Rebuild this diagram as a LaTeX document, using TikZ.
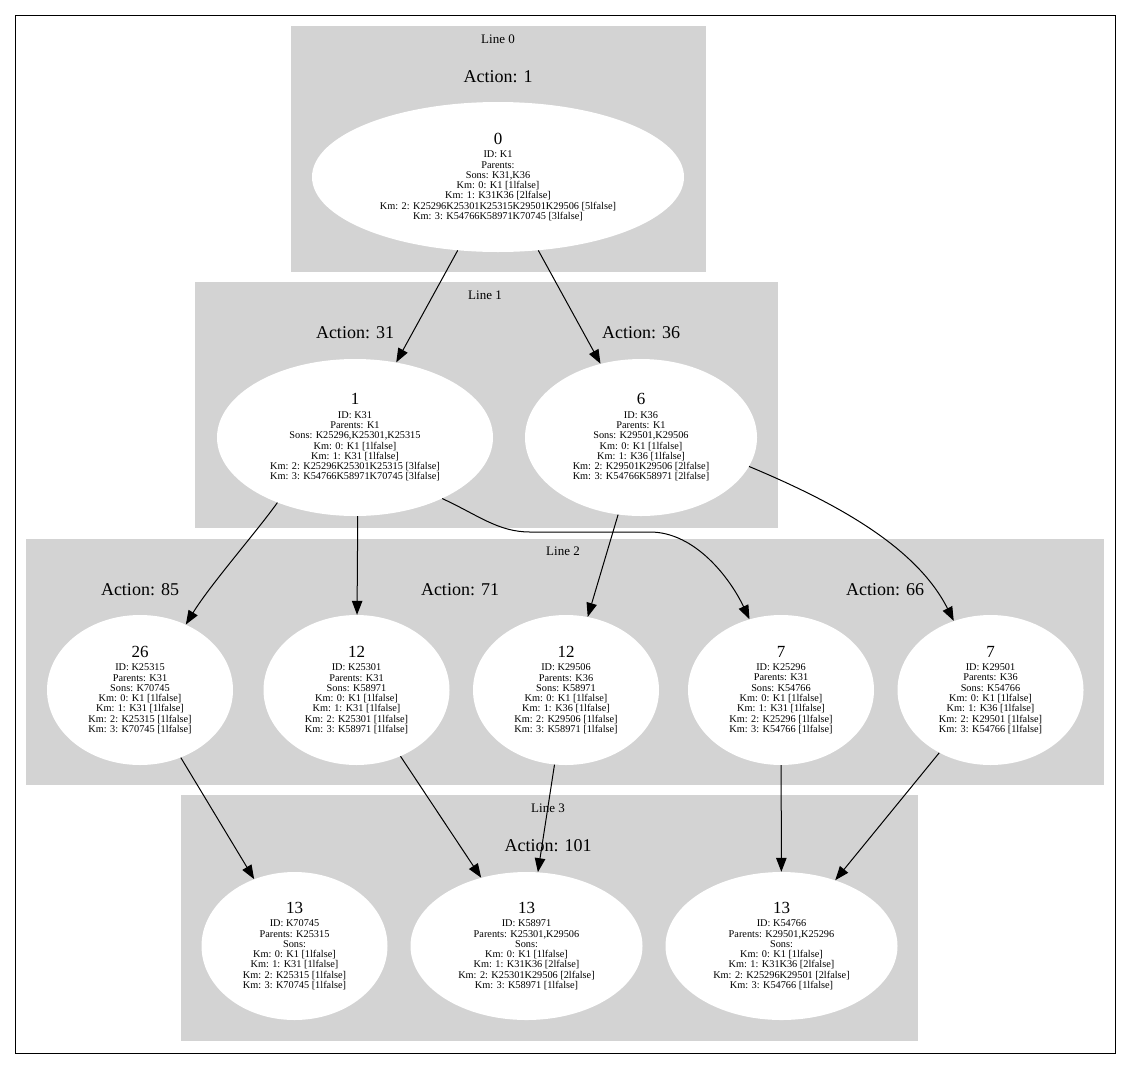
\documentclass[tikz,border=0pt]{standalone}
\usepackage{fontspec}
\setmainfont{Liberation Serif}
\usetikzlibrary{arrows.meta,shapes.geometric}

% cluster backgrounds, state ellipses, captions and arrows
\tikzset{
  cluster/.style={fill=clustergray, draw=none},
  state/.style={ellipse, fill=white, draw=none, inner sep=0pt, align=center,
                font=\fontsize{10.3}{10.3}\selectfont},
  smallstate/.style={state, minimum width=186pt, minimum height=150pt},
  widestate/.style={state, minimum width=232pt, minimum height=150pt},
  linelabel/.style={font=\fontsize{13}{13}\selectfont, inner sep=0pt},
  actionlabel/.style={font=\fontsize{18}{18}\selectfont, inner sep=0pt},
  conn/.style={draw=black, line width=1pt,
               -{Triangle[length=14pt,width=10.5pt]}},
}
\definecolor{clustergray}{RGB}{211,211,211}
\newcommand\stitle[1]{{\fontsize{17}{17}\selectfont #1}\\[3pt]}

\begin{document}
\begin{tikzpicture}[x=1pt,y=-1pt]
\useasboundingbox (0,0) rectangle (1131,1068);
\fill[white] (0,0) rectangle (1131,1068);
\draw[black, line width=0.8pt] (15,15) rectangle (1115,1053);

% clusters
\path[cluster] (291,26)  rectangle (706,272);
\path[cluster] (195,282) rectangle (778,528);
\path[cluster] (26,539)  rectangle (1104,785);
\path[cluster] (181,795) rectangle (918,1041);

% captions
\node[linelabel] (l0) at (498,39) {Line 0};
\node[actionlabel] (a1) at (498,77) {Action: 1};
\node[linelabel] (l1) at (485,295) {Line 1};
\node[actionlabel] (a31) at (355,333) {Action: 31};
\node[actionlabel] (a36) at (641,333) {Action: 36};
\node[linelabel] (l2) at (563,551) {Line 2};
\node[actionlabel] (a85) at (140,590) {Action: 85};
\node[actionlabel] (a71) at (460,590) {Action: 71};
\node[actionlabel] (a66) at (885,590) {Action: 66};
\node[linelabel] (l3) at (548,808) {Line 3};
\node[actionlabel] (a101) at (548,846) {Action: 101};

% states
\node[state, minimum width=372pt, minimum height=150pt] (n0) at (498,177)
  {\stitle{0}ID: K1\\Parents:\\Sons: K31,K36\\Km: 0: K1 [1lfalse]\\Km: 1: K31K36 [2lfalse]\\Km: 2: K25296K25301K25315K29501K29506 [5lfalse]\\Km: 3: K54766K58971K70745 [3lfalse]};

\node[state, minimum width=276pt, minimum height=157pt] (n1) at (355,437.5)
  {\stitle{1}ID: K31\\Parents: K1\\Sons: K25296,K25301,K25315\\Km: 0: K1 [1lfalse]\\Km: 1: K31 [1lfalse]\\Km: 2: K25296K25301K25315 [3lfalse]\\Km: 3: K54766K58971K70745 [3lfalse]};
\node[state, minimum width=232pt, minimum height=157pt] (n6) at (641,437.5)
  {\stitle{6}ID: K36\\Parents: K1\\Sons: K29501,K29506\\Km: 0: K1 [1lfalse]\\Km: 1: K36 [1lfalse]\\Km: 2: K29501K29506 [2lfalse]\\Km: 3: K54766K58971 [2lfalse]};

\node[smallstate] (n26) at (140,690)
  {\stitle{26}ID: K25315\\Parents: K31\\Sons: K70745\\Km: 0: K1 [1lfalse]\\Km: 1: K31 [1lfalse]\\Km: 2: K25315 [1lfalse]\\Km: 3: K70745 [1lfalse]};
\node[smallstate] (n12a) at (356.5,690)
  {\stitle{12}ID: K25301\\Parents: K31\\Sons: K58971\\Km: 0: K1 [1lfalse]\\Km: 1: K31 [1lfalse]\\Km: 2: K25301 [1lfalse]\\Km: 3: K58971 [1lfalse]};
\node[smallstate] (n12b) at (566,690)
  {\stitle{12}ID: K29506\\Parents: K36\\Sons: K58971\\Km: 0: K1 [1lfalse]\\Km: 1: K36 [1lfalse]\\Km: 2: K29506 [1lfalse]\\Km: 3: K58971 [1lfalse]};
\node[smallstate] (n7a) at (781,690)
  {\stitle{7}ID: K25296\\Parents: K31\\Sons: K54766\\Km: 0: K1 [1lfalse]\\Km: 1: K31 [1lfalse]\\Km: 2: K25296 [1lfalse]\\Km: 3: K54766 [1lfalse]};
\node[smallstate] (n7b) at (990.5,690)
  {\stitle{7}ID: K29501\\Parents: K36\\Sons: K54766\\Km: 0: K1 [1lfalse]\\Km: 1: K36 [1lfalse]\\Km: 2: K29501 [1lfalse]\\Km: 3: K54766 [1lfalse]};

\node[smallstate, minimum height=148pt] (n13a) at (294.5,946)
  {\stitle{13}ID: K70745\\Parents: K25315\\Sons:\\Km: 0: K1 [1lfalse]\\Km: 1: K31 [1lfalse]\\Km: 2: K25315 [1lfalse]\\Km: 3: K70745 [1lfalse]};
\node[widestate, minimum height=148pt] (n13b) at (526.5,946)
  {\stitle{13}ID: K58971\\Parents: K25301,K29506\\Sons:\\Km: 0: K1 [1lfalse]\\Km: 1: K31K36 [2lfalse]\\Km: 2: K25301K29506 [2lfalse]\\Km: 3: K58971 [1lfalse]};
\node[widestate, minimum height=148pt] (n13c) at (781.5,946)
  {\stitle{13}ID: K54766\\Parents: K29501,K25296\\Sons:\\Km: 0: K1 [1lfalse]\\Km: 1: K31K36 [2lfalse]\\Km: 2: K25296K29501 [2lfalse]\\Km: 3: K54766 [1lfalse]};

% transitions
\draw[conn] (n0) -- (n1);
\draw[conn] (n0) -- (n6);
\draw[conn] (n1.220) .. controls (258,530) and (210,585) .. (n26.55);
\draw[conn] (n1.-88) -- (n12a);
\draw[conn] (n1.-35) .. controls (478,515) and (498,532) .. (530,532)
            -- (650,532) .. controls (695,532) and (730,578) .. (n7a.114);
\draw[conn] (n6) -- (n12b);
\draw[conn] (n6.-15) .. controls (834,502) and (916,546) .. (n7b.118);
\draw[conn] (n26) -- (n13a);
\draw[conn] (n12a) -- (n13b);
\draw[conn] (n12b) -- (n13b);
\draw[conn] (n7a) -- (n13c);
\draw[conn] (n7b) -- (n13c);
\end{tikzpicture}
\end{document}
